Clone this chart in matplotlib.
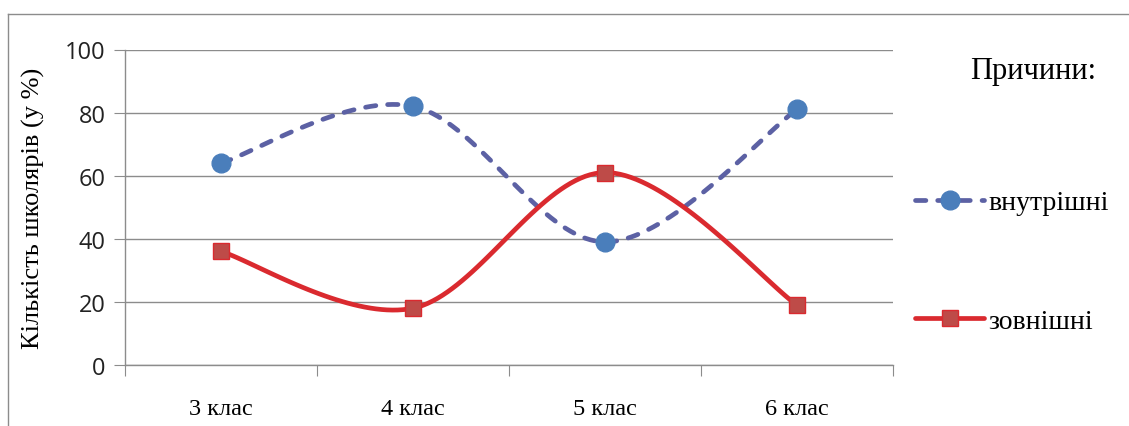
import numpy as np
import matplotlib
matplotlib.use('Agg')
import matplotlib.pyplot as plt
from matplotlib.lines import Line2D

# chart data
classes = ['3 клас', '4 клас', '5 клас', '6 клас']
internal = [64, 82, 39, 81]
external = [36, 18, 61, 19]
series_names = ['внутрішні', 'зовнішні']

SERIF = 'Liberation Serif'
SANS = 'Open Sans'


def smooth(xs, ys, n=40):
    # Catmull-Rom style bezier smoothing through every point
    pts = np.column_stack([xs, ys]).astype(float)
    ext = np.vstack([pts[0], pts, pts[-1]])
    out = []
    t = np.linspace(0, 1, n)[:, None]
    for i in range(len(pts) - 1):
        p0, p1, p2, p3 = ext[i], ext[i + 1], ext[i + 2], ext[i + 3]
        c1 = p1 + (p2 - p0) / 6
        c2 = p2 - (p3 - p1) / 6
        seg = ((1 - t) ** 3) * p1 + 3 * ((1 - t) ** 2) * t * c1 + 3 * (1 - t) * t ** 2 * c2 + t ** 3 * p2
        out.append(seg if i == 0 else seg[1:])
    out = np.vstack(out)
    return out[:, 0], out[:, 1]


W, H = 1129, 427
fig = plt.figure(figsize=(W / 100, H / 100), dpi=100)
ax = fig.add_axes([125 / W, 1 - 366 / H, (893 - 125) / W, (366 - 50.5) / H])

x = np.arange(len(classes))
blue_line = '#5C61A4'
blue_mark = '#4A7EBB'
red_line = '#DA2A2F'
red_mark = '#BE4B48'
LW = 3.4
DASH = (0, (2.2, 2.5))

sx, sy = smooth(x, internal)
ax.plot(sx, sy, color=blue_line, lw=LW, linestyle=DASH, dash_capstyle='round', zorder=3)
ax.plot(x, internal, linestyle='none', marker='o', ms=13.5, mfc=blue_mark, mec=blue_mark, zorder=4)

sx, sy = smooth(x, external)
ax.plot(sx, sy, color=red_line, lw=LW, solid_capstyle='round', zorder=3)
ax.plot(x, external, linestyle='none', marker='s', ms=11, mfc=red_mark, mec=red_line, mew=1, zorder=4)

ax.set_xlim(-0.5, len(classes) - 0.5)
ax.set_ylim(0, 100)
ax.set_yticks(range(0, 101, 20))
ax.yaxis.grid(True, color='#8C8C8C', lw=1)
ax.set_axisbelow(True)

# category boundaries get the tick marks, labels sit in the middle
ax.set_xticks(np.arange(-0.5, len(classes), 1))
ax.set_xticklabels([])
ax.set_xticks(x, minor=True)
ax.set_xticklabels(classes, minor=True, fontsize=17.5, family=SERIF)
ax.tick_params(axis='x', which='major', length=8, color='#8C8C8C', direction='out')
ax.tick_params(axis='x', which='minor', length=0, pad=24)
ax.tick_params(axis='y', length=8, color='#8C8C8C', direction='out', pad=6)
for lab in ax.get_yticklabels():
    lab.set_family(SANS)
    lab.set_fontsize(17)
    lab.set_color('#222222')

for side in ['top', 'right']:
    ax.spines[side].set_visible(False)
for side in ['left', 'bottom']:
    ax.spines[side].set_color('#8C8C8C')
    ax.spines[side].set_linewidth(1)

ax.set_ylabel('Кількість школярів (у %)', family=SERIF, fontsize=19, labelpad=14)

# legend
handles = [
    Line2D([], [], color=blue_line, lw=LW, linestyle=DASH, dash_capstyle='round',
           marker='o', ms=13.5, mfc=blue_mark, mec=blue_mark),
    Line2D([], [], color=red_line, lw=LW, solid_capstyle='round',
           marker='s', ms=11, mfc=red_mark, mec=red_line),
]
fig.legend(handles, series_names, loc='upper left', bbox_to_anchor=(915 / W, 1 - 191 / H),
           frameon=False, prop={'family': SERIF, 'size': 20}, labelspacing=3.35,
           handlelength=2.5, handletextpad=0.15, borderpad=0, borderaxespad=0)
fig.text(1033 / W, 1 - 72 / H, 'Причини:', family=SERIF, fontsize=22, ha='center', va='center')

# outer chart border
fig.add_artist(Line2D([8 / W, 1], [1 - 15 / H, 1 - 15 / H], color='#8C8C8C', lw=1))
fig.add_artist(Line2D([8 / W, 8 / W], [0, 1 - 15 / H], color='#8C8C8C', lw=1))

fig.savefig('out.png', dpi=100)
